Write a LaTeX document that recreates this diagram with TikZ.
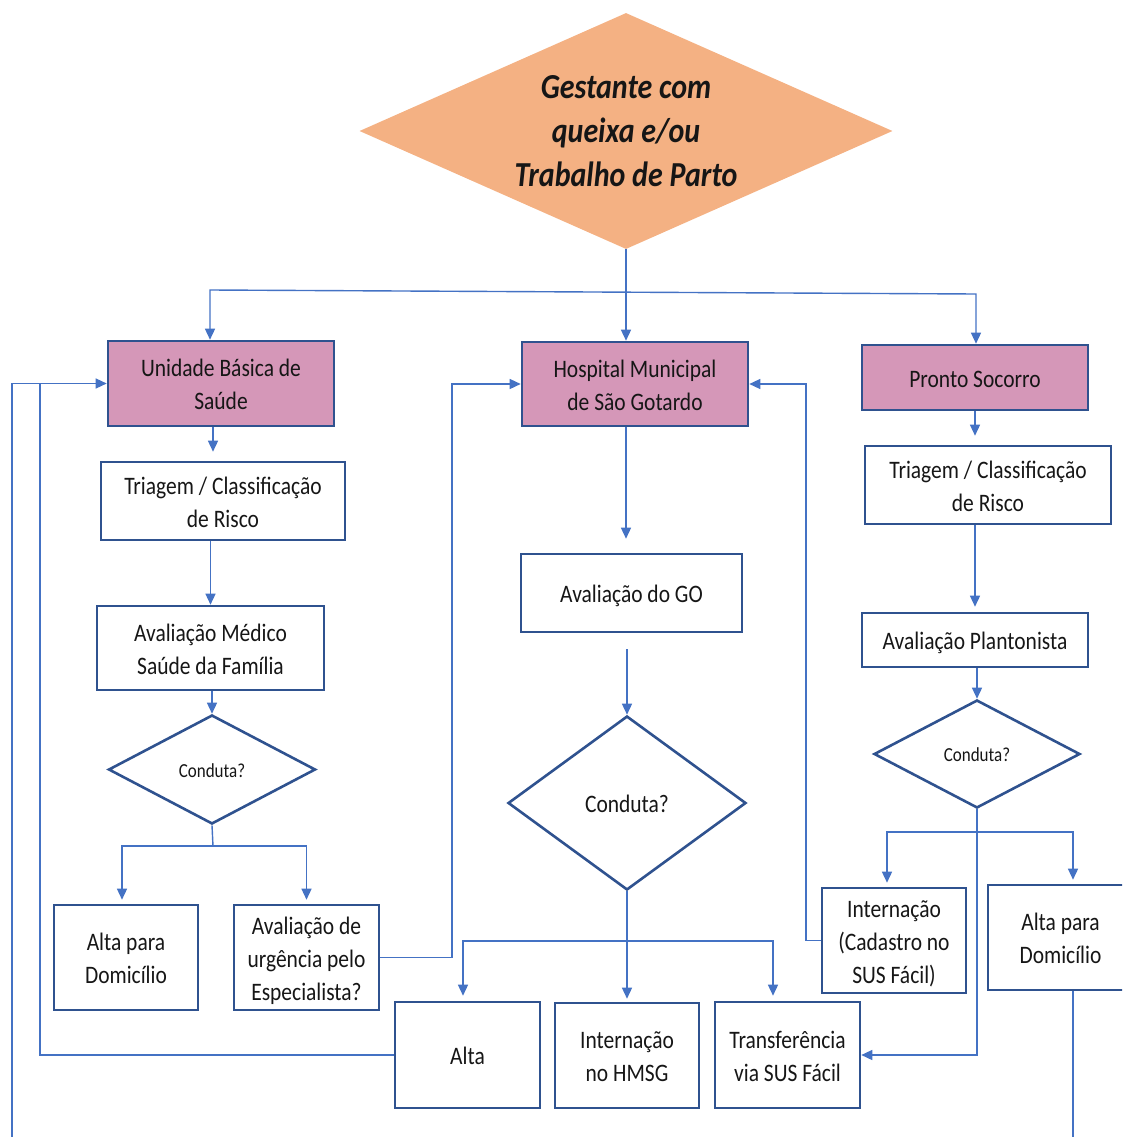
\documentclass[tikz,border=0pt]{standalone}
\usepackage{fontspec}
\usepackage{graphicx}
\setmainfont{Carlito}
\usetikzlibrary{arrows.meta,shapes.geometric}

\definecolor{boxblue}{HTML}{2F528F}
\definecolor{linkblue}{HTML}{4472C4}
\definecolor{pinkfill}{HTML}{D597B8}
\definecolor{orangefill}{HTML}{F4B183}
\definecolor{inkc}{HTML}{161616}

\newcommand{\boxfont}{\fontsize{21.5}{28.2}\selectfont}
\newcommand{\smallfont}{\fontsize{17}{20}\selectfont}
\newcommand{\titlefont}{\fontsize{30}{37.6}\selectfont\bfseries\itshape}
% narrow, tall lettering: stretch the text block vertically and sit it a little lower
\newcommand{\tall}[1]{\raisebox{-3pt}[\height][\depth]{\scalebox{1}[1.17]{\begin{tabular}{@{}c@{}}#1\end{tabular}}}}

\tikzset{
  box/.style={draw=boxblue, line width=2.6pt, align=center, inner sep=0pt,
              text=inkc, font=\boxfont},
  pinkbox/.style={box, fill=pinkfill},
  choice/.style={diamond, draw=boxblue, line width=2.6pt, inner sep=0pt,
                 text=inkc},
  conn/.style={draw=linkblue, line width=1.4pt},
  tip/.tip={Triangle[length=11pt,width=10pt]},
  arr/.style={conn, -tip},
  arr2/.style={conn, tip-tip},
}

\begin{document}
\renewcommand{\arraystretch}{1}
\begin{tikzpicture}[x=1pt,y=-1pt]
\useasboundingbox (0,0) rectangle (1122,1137);
\clip (0,0) rectangle (1122,1137);

% entry decision
\node[diamond, fill=orangefill, aspect=2.26, inner sep=0pt,
      minimum width=533pt, minimum height=236pt, align=center,
      text=inkc, font=\titlefont] (start) at (626,131)
      {\tall{Gestante com\\queixa e/ou\\Trabalho de Parto}};

% three entry points
\node[pinkbox, minimum width=226pt, minimum height=85pt] (ubs) at (221,383.5)
      {\tall{Unidade Básica de\\Saúde}};
\node[pinkbox, minimum width=226pt, minimum height=84pt] (hmsg) at (635,384)
      {\tall{Hospital Municipal\\de São Gotardo}};
\node[pinkbox, minimum width=226pt, minimum height=65pt] (ps) at (975,377.5)
      {\tall{Pronto Socorro}};

% UBS column
\node[box, minimum width=244pt, minimum height=78pt] (tri1) at (223,501)
      {\tall{Triagem / Classificação\\de Risco}};
\node[box, minimum width=227pt, minimum height=84pt] (med) at (210.5,648)
      {\tall{Avaliação Médico\\Saúde da Família}};
\node[choice, aspect=1.9, minimum width=207pt, minimum height=109pt,
      font=\smallfont] (cond1) at (212,769.5) {\tall{Conduta?}};
\node[box, minimum width=144pt, minimum height=105pt] (dom1) at (126,957.5)
      {\tall{Alta para\\Domicílio}};
\node[box, minimum width=145pt, minimum height=105pt] (urg) at (306.5,957.5)
      {\tall{Avaliação de\\urgência pelo\\Especialista?}};

% hospital column
\node[box, minimum width=221pt, minimum height=78pt] (go) at (631.5,593)
      {\tall{Avaliação do GO}};
\node[choice, aspect=1.37, minimum width=238pt, minimum height=174pt,
      font=\boxfont] (cond2) at (627,803) {\tall{Conduta?}};
\node[box, minimum width=145pt, minimum height=106pt] (alta) at (467.5,1055)
      {\tall{Alta}};
\node[box, minimum width=144pt, minimum height=105pt] (inth) at (627,1055.5)
      {\tall{Internação\\no HMSG}};
\node[box, minimum width=145pt, minimum height=106pt] (transf) at (787.5,1055)
      {\tall{Transferência\\via SUS Fácil}};

% emergency column
\node[box, minimum width=246pt, minimum height=78pt] (tri2) at (988,485)
      {\tall{Triagem / Classificação\\de Risco}};
\node[box, minimum width=226pt, minimum height=54pt] (plant) at (975,640)
      {\tall{Avaliação Plantonista}};
\node[choice, aspect=1.9, minimum width=206pt, minimum height=108pt,
      font=\smallfont] (cond3) at (977,754) {\tall{Conduta?}};
\node[box, minimum width=144pt, minimum height=105pt] (intc) at (894,940.5)
      {\tall{Internação\\(Cadastro no\\SUS Fácil)}};
\node[box, minimum width=145pt, minimum height=105pt] (dom2) at (1060.5,937.5)
      {\tall{Alta para\\Domicílio}};

% routing points
\coordinate (brL) at (210,290);
\coordinate (brR) at (976,294);
\coordinate (c1j) at (213,846);
\coordinate (c2j) at (627,941);
\coordinate (c3j) at (977,832);
\coordinate (uturn) at (452,700);
\coordinate (lrail) at (40,700);
\coordinate (bl) at (12,1137);
\coordinate (rrail) at (806,700);
\coordinate (br) at (1073,1137);

% distribution from the entry decision
\draw[arr] (start.south) -- (start.south |- hmsg.north);
\draw[arr2] (brL |- ubs.north) -- (brL) -- (brR) -- (brR |- ps.north);

% UBS flow
\draw[arr, shorten >=9pt] ([xshift=-8pt]ubs.south) -- ([xshift=-8pt]ubs.south |- tri1.north);
\draw[arr] (med.north |- tri1.south) -- (med.north);
\draw[arr] (cond1.north |- med.south) -- (cond1.north);
\draw[conn] (cond1.south) -- (c1j);
\draw[arr2, shorten <=4pt, shorten >=4pt] ([xshift=-4pt]dom1.north) |- (c1j) -| (urg.north);
\draw[arr] (urg.east) -| (uturn) |- (hmsg.west);
\draw[arr] (alta.west) -| (lrail) |- (ubs.west);
\draw[conn] (bl) |- (lrail |- ubs.west);

% hospital flow
\draw[arr, shorten >=14pt] ([xshift=-9pt]hmsg.south) -- ([xshift=-9pt]hmsg.south |- go.north);
\draw[arr, shorten <=16pt] (cond2.north |- go.south) -- (cond2.north);
\draw[arr, shorten >=3pt] (cond2.south) -- (inth.north);
\draw[arr2, shorten <=5pt, shorten >=5pt] ([xshift=-4.5pt]alta.north) |- (c2j) -| ([xshift=-14.5pt]transf.north);

% emergency flow
\draw[arr, shorten >=9pt] (ps.south) -- (ps.south |- tri2.north);
\draw[arr, shorten >=5pt] (plant.north |- tri2.south) -- (plant.north);
\draw[arr] (cond3.north |- plant.south) -- (cond3.north);
\draw[conn] (cond3.south) -- (c3j);
\draw[arr2, shorten <=4pt, shorten >=4pt] ([xshift=-7pt]intc.north) |- (c3j) -| ([xshift=12.5pt]dom2.north);
\draw[arr] (c3j) |- (transf.east);
\draw[arr] (intc.west) -| (rrail) |- (hmsg.east);
\draw[conn] (br |- dom2.south) -- (br);
\end{tikzpicture}
\end{document}
